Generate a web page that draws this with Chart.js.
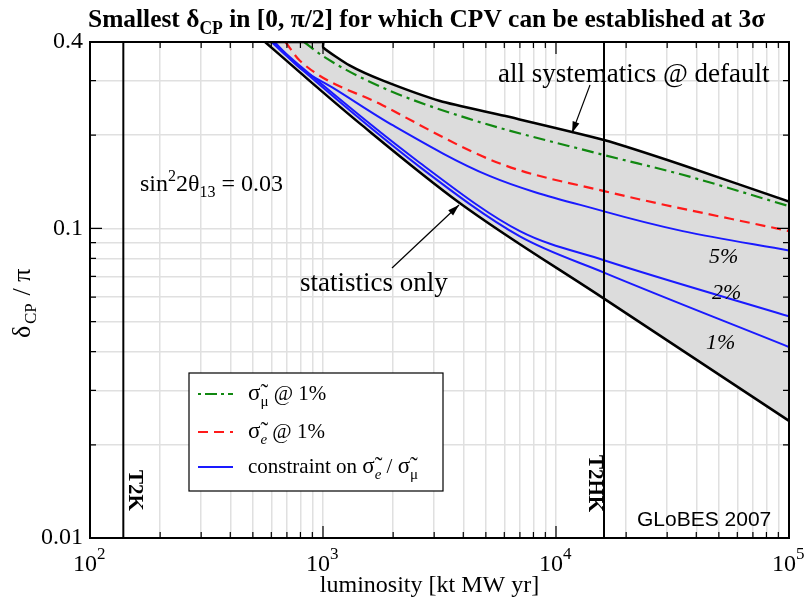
<!DOCTYPE html>
<html><head><meta charset="utf-8">
<script src="https://cdn.jsdelivr.net/npm/chart.js@4"></script>
<style>body{margin:0;background:#fff}#wrap{width:805px;height:599px}</style>
</head><body><div id="wrap"><canvas id="c"></canvas></div>
<script>
// luminosity [kt MW yr] and delta_CP/pi
const lumTop = [564, 1000, 1002, 1300, 1810, 3180, 6000, 16070, 35100, 100000];
const valTop = [0.4, 0.4, 0.384, 0.336, 0.30, 0.258, 0.231, 0.193, 0.160, 0.122];
const lumStat = [564, 796, 1442, 3873, 16070, 100000];
const valStat = [0.4, 0.319, 0.218, 0.1206, 0.0593, 0.0239];
const lum1 = [600, 796, 2600, 7000, 16070, 100000];
const val1 = [0.4, 0.33, 0.158, 0.0942, 0.072, 0.0414];
const lum2 = [610, 796, 2600, 7000, 16070, 100000];
const val2 = [0.4, 0.335, 0.163, 0.098, 0.0789, 0.052];
const lum5 = [620, 796, 1100, 2000, 5210, 16070, 35000, 100000];
const val5 = [0.4, 0.33, 0.285, 0.215, 0.1475, 0.1135, 0.098, 0.0848];
const lumRed = [690, 796, 1800, 5750, 16070, 100000];
const valRed = [0.4, 0.348, 0.25, 0.162, 0.132, 0.098];
const lumGreen = [830, 1000, 1800, 4150, 16070, 35000, 100000];
const valGreen = [0.4, 0.36, 0.285, 0.227, 0.1726, 0.149, 0.118];
const lumT2K = 139, lumT2HK = 16070;
const xTicks = [100, 1000, 10000, 100000];
const yTicks = [0.01, 0.1, 0.4];

const pts = (xs, ys) => xs.map((x, i) => ({x, y: ys[i]}));
const line = (xs, ys, color, width, dash, extra) => Object.assign({
  data: pts(xs, ys), borderColor: color, borderWidth: width, borderDash: dash,
  pointRadius: 0, fill: false, cubicInterpolationMode: 'monotone'
}, extra || {});

const minorX = [], minorY = [];
for (let d = 100; d < 100000; d *= 10) for (let k = 1; k < 10; k++) minorX.push(d * k);
minorX.push(100000);
for (let d = 0.01; d < 0.4; d *= 10) for (let k = 1; k < 10; k++) if (d * k <= 0.4001) minorY.push(+(d * k).toFixed(3));

const serif = '"Liberation Serif", "DejaVu Serif", serif';

const deco = {
  id: 'deco',
  afterDraw(chart) {
    const c = chart.ctx, xs = chart.scales.x, ys = chart.scales.y, a = chart.chartArea;
    c.save();
    // vertical experiment lines
    c.strokeStyle = '#000'; c.lineWidth = 2;
    [lumT2K, lumT2HK].forEach(l => {
      const px = xs.getPixelForValue(l);
      c.beginPath(); c.moveTo(px, a.top); c.lineTo(px, a.bottom); c.stroke();
    });
    // inward tick marks
    c.lineWidth = 1.2; c.beginPath();
    minorX.forEach(v => {
      const px = xs.getPixelForValue(v), L = xTicks.includes(v) ? 12 : 6;
      c.moveTo(px, a.bottom); c.lineTo(px, a.bottom - L);
      c.moveTo(px, a.top); c.lineTo(px, a.top + L);
    });
    minorY.forEach(v => {
      const py = ys.getPixelForValue(v), L = (v === 0.01 || v === 0.1) ? 12 : 6;
      c.moveTo(a.left, py); c.lineTo(a.left + L, py);
      c.moveTo(a.right, py); c.lineTo(a.right - L, py);
    });
    c.stroke();
    // frame
    c.lineWidth = 2; c.strokeRect(a.left, a.top, a.right - a.left, a.bottom - a.top);
    c.fillStyle = '#000';
    // title, horizontally condensed to the original width
    c.textAlign = 'left'; c.textBaseline = 'alphabetic';
    const tparts = [['Smallest δ', 'bold 26px ' + serif, 0], ['CP', 'bold 18px ' + serif, 7],
                    [' in [0, π/2] for which CPV can be established at 3σ', 'bold 26px ' + serif, 0]];
    let tw = 0;
    tparts.forEach(p => { c.font = p[1]; tw += c.measureText(p[0]).width; });
    c.save(); c.translate(88, 27); c.scale(677 / tw, 1);
    let x = 0;
    tparts.forEach(p => { c.font = p[1]; c.fillText(p[0], x, p[2]); x += c.measureText(p[0]).width; });
    c.restore();
    // tick labels
    c.font = '24px ' + serif; c.textAlign = 'right'; c.textBaseline = 'middle';
    yTicks.forEach(v => c.fillText(String(v), a.left - 7, ys.getPixelForValue(v)));
    xTicks.forEach(v => {
      const px = xs.getPixelForValue(v), e = Math.round(Math.log10(v));
      c.font = '24px ' + serif; c.textAlign = 'center'; c.textBaseline = 'alphabetic';
      c.fillText('10', px - 5, a.bottom + 33);
      c.font = '17px ' + serif; c.textAlign = 'left';
      c.fillText(String(e), px + 7, a.bottom + 21);
    });
    // axis titles
    c.font = '24px ' + serif; c.textAlign = 'center';
    c.fillText('luminosity [kt MW yr]', (a.left + a.right) / 2 - 10, 592);
    c.save(); c.translate(30, 290); c.rotate(-Math.PI / 2);
    c.textAlign = 'left'; c.font = '26px ' + serif; c.fillText('δ', -48, 0);
    c.font = '17px ' + serif; c.fillText('CP', -34, 6);
    c.font = '26px ' + serif; c.fillText(' / π', -12, 0);
    c.restore();
    // annotations
    c.font = '27px ' + serif; c.textAlign = 'left';
    c.fillText('all systematics @ default', 498, 82);
    c.fillText('statistics only', 300, 291);
    x = 140;
    const s2 = (t, f, dy) => { c.font = f; c.fillText(t, x, 191 + dy); x += c.measureText(t).width; };
    s2('sin', '24px ' + serif, 0); s2('2', '16px ' + serif, -10); s2('2θ', '24px ' + serif, 0);
    s2('13', '16px ' + serif, 6); s2(' = 0.03', '24px ' + serif, 0);
    c.font = 'italic 22px ' + serif;
    c.fillText('5%', 709, 263); c.fillText('2%', 712, 299); c.fillText('1%', 706, 349);
    c.font = '21px "Liberation Sans", Arial, sans-serif';
    c.fillText('GLoBES 2007', 637, 526);
    c.font = 'bold 21px ' + serif;
    [[124, 470, 'T2K'], [584, 455, 'T2HK']].forEach(([tx, ty, t]) => {
      c.save(); c.translate(tx, ty); c.rotate(Math.PI / 2); c.textAlign = 'left'; c.textBaseline = 'bottom'; c.fillText(t, 0, 0); c.restore();
    });
    // arrows
    const arrow = (x0, y0, x1, y1) => {
      c.lineWidth = 1.2; c.beginPath(); c.moveTo(x0, y0); c.lineTo(x1, y1); c.stroke();
      const ang = Math.atan2(y1 - y0, x1 - x0);
      c.beginPath(); c.moveTo(x1, y1);
      c.lineTo(x1 - 12 * Math.cos(ang - 0.3), y1 - 12 * Math.sin(ang - 0.3));
      c.lineTo(x1 - 12 * Math.cos(ang + 0.3), y1 - 12 * Math.sin(ang + 0.3));
      c.closePath(); c.fill();
    };
    arrow(590, 85, 572, 133); arrow(392, 268, 459, 205);
    // legend
    c.fillStyle = '#fff'; c.fillRect(189, 373, 254, 118);
    c.lineWidth = 1.2; c.strokeRect(189, 373, 254, 118);
    const rows = [['#118811', [3, 4, 12, 4], 394, 'μ', ' @ 1%'], ['#ff1a1a', [10, 6], 432, 'e', ' @ 1%'], ['#1a1aff', [], 467, '', '']];
    rows.forEach(([col, dash, ry, sub, rest], i) => {
      c.strokeStyle = col; c.lineWidth = 2; c.setLineDash(dash);
      c.beginPath(); c.moveTo(198, ry); c.lineTo(233, ry); c.stroke(); c.setLineDash([]);
      c.fillStyle = '#000'; c.textBaseline = 'middle'; x = 248;
      const t = (s, f, dy) => { c.font = f; c.fillText(s, x, ry + dy); x += c.measureText(s).width; };
      if (i < 2) {
        t('σ\u0303', '23px ' + serif, 0); t(sub, (i ? 'italic ' : '') + '15px ' + serif, 8); t(' ' + rest.trim(), '21px ' + serif, 0);
      } else {
        t('constraint on ', '21px ' + serif, 0); t('σ\u0303', '23px ' + serif, 0); t('e', 'italic 15px ' + serif, 8);
        t(' / ', '21px ' + serif, 0); t('σ\u0303', '23px ' + serif, 0); t('μ', '15px ' + serif, 8);
      }
    });
    c.restore();
  }
};

new Chart(document.getElementById('c'), {
  type: 'line',
  data: {
    datasets: [
      line(lumTop, valTop, '#000', 2.5, [], {fill: '+1', backgroundColor: '#dcdcdc', cubicInterpolationMode: 'default', tension: 0.2}),
      line(lumStat, valStat, '#000', 2.5, []),
      line(lum1, val1, '#1a1aff', 2, []),
      line(lum2, val2, '#1a1aff', 2, []),
      line(lum5, val5, '#1a1aff', 2, []),
      line(lumRed, valRed, '#ff1a1a', 2.2, [10, 6]),
      line(lumGreen, valGreen, '#118811', 2.2, [12, 5, 3, 5])
    ]
  },
  options: {
    responsive: true, maintainAspectRatio: false, animation: false,
    layout: {padding: {left: 90, right: 16, top: 42, bottom: 61}},
    plugins: {legend: {display: false}, tooltip: {enabled: false}, filler: {drawTime: 'beforeDatasetsDraw'}},
    scales: {
      x: {type: 'logarithmic', min: 100, max: 100000,
          afterBuildTicks: s => { s.ticks = minorX.map(v => ({value: v})); },
          ticks: {display: false}, border: {display: false},
          grid: {color: '#e0e0e0', lineWidth: 1.5, drawTicks: false}},
      y: {type: 'logarithmic', min: 0.01, max: 0.4,
          afterBuildTicks: s => { s.ticks = minorY.map(v => ({value: v})); },
          ticks: {display: false}, border: {display: false},
          grid: {color: '#e0e0e0', lineWidth: 1.5, drawTicks: false}}
    }
  },
  plugins: [deco]
});
</script></body></html>
